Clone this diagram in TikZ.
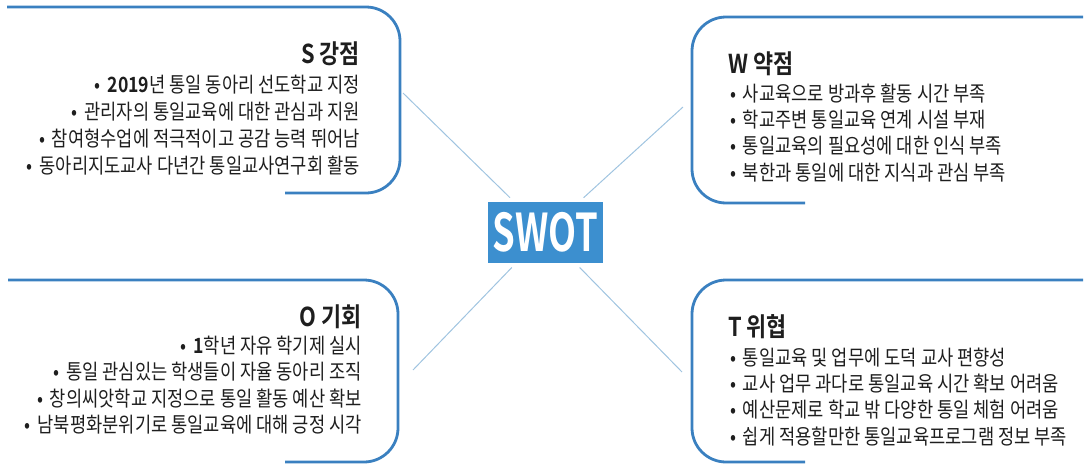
\documentclass[tikz,border=0pt]{standalone}
\usepackage{fontspec}
\newfontfamily\kr[FakeStretch=0.84,BoldFont={Noto Sans CJK KR Bold}]{Noto Sans CJK KR}
\newfontfamily\krs[FakeStretch=0.70,BoldFont={Noto Sans CJK KR Bold}]{Noto Sans CJK KR}
\newcommand\mybul{•\hspace{0.32em}}
\definecolor{boxblue}{RGB}{58,128,192}
\definecolor{swotblue}{RGB}{60,143,207}
\definecolor{connc}{RGB}{160,196,224}
\definecolor{txt}{RGB}{30,30,30}
\tikzset{
  quadbox/.style={draw=boxblue, line width=2.8pt, rounded corners=34pt},
  ttl/.style={font=\kr\bfseries\fontsize{26}{26}\selectfont, text=txt, inner sep=0pt},
  itm/.style={font=\kr\fontsize{21}{21}\selectfont, text=txt, inner sep=0pt},
  conn/.style={draw=connc, line width=1pt, shorten >=6pt},
}
\begin{document}
\begin{tikzpicture}[x=1pt,y=-1pt]
\useasboundingbox (0,0) rectangle (1085,466);
% boxes
\draw[quadbox] (7,7) -- (400,7) -- (400,193) -- (285,193);
\draw[quadbox] (1083,17) -- (692,17) -- (692,203) -- (805,203);
\draw[quadbox] (8,280) -- (398,280) -- (398,462) -- (285,462);
\draw[quadbox] (1083,280) -- (692,280) -- (692,462) -- (805,462);
% center
\node[fill=swotblue, minimum width=115pt, minimum height=61pt, inner sep=0pt, text=white,
      font=\krs\bfseries\fontsize{52}{52}\selectfont] (swot) at (545.5,232.5) {SWOT};
% connectors
\coordinate (cS) at (403,93);
\coordinate (cW) at (683,107);
\coordinate (cO) at (413,370);
\coordinate (cT) at (682,372);
\draw[conn] (cS) -- (swot);
\draw[conn] (cW) -- (swot);
\draw[conn] (cO) -- (swot);
\draw[conn] (cT) -- (swot);
% S
\node[ttl, anchor=base east] (s0) at (360,63) {S 강점};
\node[itm, anchor=base east] (s1) at (360,92) {\mybul\textbf{2019}년 통일 동아리 선도학교 지정};
\node[itm, anchor=base east] (s2) at (360,119) {\mybul 관리자의 통일교육에 대한 관심과 지원};
\node[itm, anchor=base east] (s3) at (360,146) {\mybul 참여형수업에 적극적이고 공감 능력 뛰어남};
\node[itm, anchor=base east] (s4) at (360,173) {\mybul 동아리지도교사 다년간 통일교사연구회 활동};
% W
\node[ttl, anchor=base west] (w0) at (728,73) {W 약점};
\node[itm, anchor=base west] (w1) at (730,101) {\mybul 사교육으로 방과후 활동 시간 부족};
\node[itm, anchor=base west] (w2) at (730,127) {\mybul 학교주변 통일교육 연계 시설 부재};
\node[itm, anchor=base west] (w3) at (730,153) {\mybul 통일교육의 필요성에 대한 인식 부족};
\node[itm, anchor=base west] (w4) at (730,180) {\mybul 북한과 통일에 대한 지식과 관심 부족};
% O
\node[ttl, anchor=base east] (o0) at (362,326) {O 기회};
\node[itm, anchor=base east] (o1) at (362,353) {\mybul\textbf{1}학년 자유 학기제 실시};
\node[itm, anchor=base east] (o2) at (362,379) {\mybul 통일 관심있는 학생들이 자율 동아리 조직};
\node[itm, anchor=base east] (o3) at (362,406) {\mybul 창의씨앗학교 지정으로 통일 활동 예산 확보};
\node[itm, anchor=base east] (o4) at (362,432) {\mybul 남북평화분위기로 통일교육에 대해 긍정 시각};
% T
\node[ttl, anchor=base west] (t0) at (728,336) {T 위협};
\node[itm, anchor=base west] (t1) at (730,365) {\mybul 통일교육 및 업무에 도덕 교사 편향성};
\node[itm, anchor=base west] (t2) at (730,391) {\mybul 교사 업무 과다로 통일교육 시간 확보 어려움};
\node[itm, anchor=base west] (t3) at (730,417) {\mybul 예산문제로 학교 밖 다양한 통일 체험 어려움};
\node[itm, anchor=base west] (t4) at (730,444) {\mybul 쉽게 적용할만한 통일교육프로그램 정보 부족};
\end{tikzpicture}
\end{document}
